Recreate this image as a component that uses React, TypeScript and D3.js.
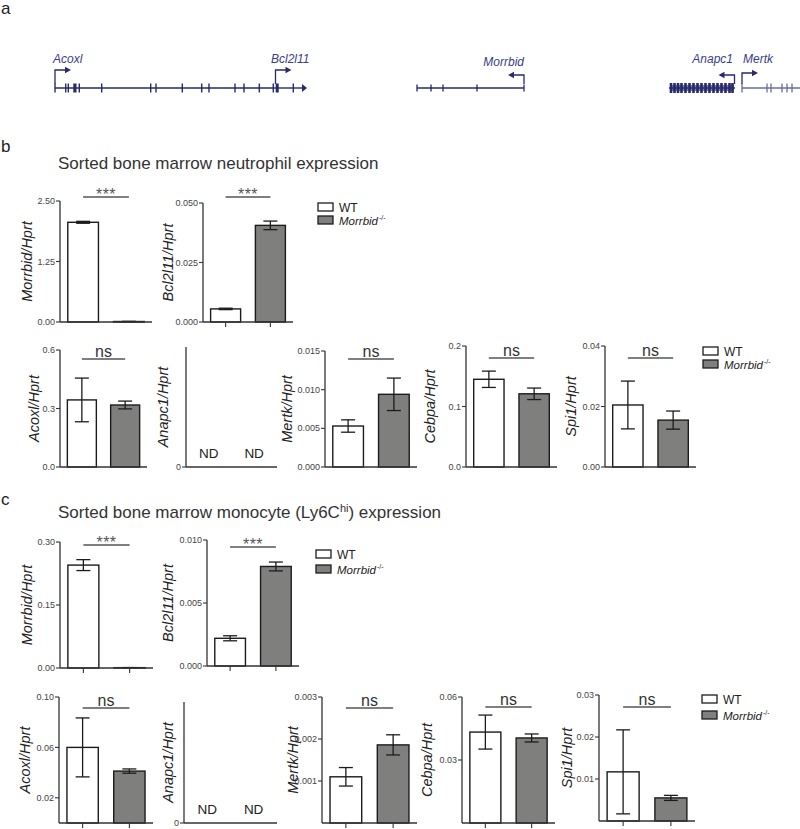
import React from "react";
import * as d3 from "d3";

const FONT = "'Liberation Sans', Arial, Helvetica, sans-serif";
const GENE_DARK = "#272a6b";
const GENE_LIGHT = "#6a6ca3";
const GENE_TEXT = "#3a3d88";
const KO_FILL = "#7f807d";
const INK = "#1c1c1c";

// ---------- Panel a: gene model data (genomic coordinate units) ----------
const acoxlSpan = [55, 273];
const acoxlExons = [55, 65.7, 68.3, 79.3, 101.7, 150.7, 156, 182.3, 201.7, 209, 235, 244, 259.3];
const acoxlBlocks = [[73.3, 76.5]];
const bcl2l11Span = [273, 303];
const bcl2l11Exons = [273.3, 293.3];
const bcl2l11Blocks = [[275.7, 278.7]];
const morrbidSpan = [417, 524];
const morrbidExons = [417, 431, 443, 477, 524];
const anapc1Span = [669, 735];
const anapc1Exons = [671, 674.5, 678, 681.5, 685.5, 689.5, 693.5, 697.5, 701.5, 705.5, 709.5, 713.5, 717.5, 721.5, 725.5, 729.5, 732.5];
const mertkSpan = [742, 800];
const mertkExons = [742, 767, 771, 782, 787, 792];
const tssNames = ["Acoxl", "Bcl2l11", "Morrbid", "Anapc1", "Mertk"];
const tssPos = [55, 275.5, 524, 734.5, 742];
const tssDir = [1, 1, -1, -1, 1];

// ---------- Panels b/c: expression data ----------
const genes = ["Morrbid", "Bcl2l11", "Acoxl", "Anapc1", "Mertk", "Cebpa", "Spi1"];
const groups = ["WT", "Morrbid-/-"];

const neutroWT = [2.06, 0.0055, 0.344, null, 0.0053, 0.145, 0.0205];
const neutroWTErr = [0.02, 0.0003, 0.112, null, 0.0008, 0.0135, 0.0079];
const neutroKO = [0.01, 0.0406, 0.318, null, 0.0094, 0.121, 0.0155];
const neutroKOErr = [0.004, 0.0018, 0.02, null, 0.0021, 0.0095, 0.003];
const neutroMax = [2.5, 0.05, 0.6, 1, 0.015, 0.2, 0.04];
const neutroTicks = [[0, 1.25, 2.5], [0, 0.025, 0.05], [0, 0.3, 0.6], [0], [0, 0.005, 0.01, 0.015], [0, 0.1, 0.2], [0, 0.02, 0.04]];
const neutroTickLabels = [["0.00", "1.25", "2.50"], ["0.000", "0.025", "0.050"], ["0.0", "0.3", "0.6"], ["0"], ["0.000", "0.005", "0.010", "0.015"], ["0.0", "0.1", "0.2"], ["0.00", "0.02", "0.04"]];
const neutroSig = ["***", "***", "ns", null, "ns", "ns", "ns"];

const monoWT = [0.245, 0.0022, 0.06, null, 0.0011, 0.0433, 0.0117];
const monoWTErr = [0.013, 0.0002, 0.0234, null, 0.00022, 0.0081, 0.01];
const monoKO = [0.0008, 0.0079, 0.0412, null, 0.00186, 0.0405, 0.0055];
const monoKOErr = [0.0003, 0.00035, 0.0017, null, 0.00024, 0.0019, 0.0006];
const monoMax = [0.3, 0.01, 0.1, 1, 0.003, 0.06, 0.03];
const monoTicks = [[0, 0.15, 0.3], [0, 0.005, 0.01], [0.02, 0.06, 0.1], [0], [0.001, 0.002, 0.003], [0.03, 0.06], [0.01, 0.02, 0.03]];
const monoTickLabels = [["0.00", "0.15", "0.30"], ["0.000", "0.005", "0.010"], ["0.02", "0.06", "0.10"], ["0"], ["0.001", "0.002", "0.003"], ["0.03", "0.06"], ["0.01", "0.02", "0.03"]];
const monoSig = ["***", "***", "ns", null, "ns", "ns", "ns"];

// ---------- Layout (positions only) ----------
const neutroLayout = [
  { ax: 60, w: 92, top: 201, bottom: 322, sigY: 197, labelX: 32, xTicks: false },
  { ax: 203, w: 90, top: 203, bottom: 322, sigY: 197, labelX: 173, xTicks: true },
  { ax: 60, w: 87, top: 350, bottom: 467, sigY: 359, labelX: 39, xTicks: false },
  { ax: 186, w: 91, top: 347, bottom: 467, sigY: 0, labelX: 168, xTicks: false },
  { ax: 325, w: 92, top: 351, bottom: 467, sigY: 359, labelX: 292, xTicks: false },
  { ax: 466, w: 91, top: 346, bottom: 467, sigY: 358, labelX: 435, xTicks: false },
  { ax: 605, w: 91, top: 346, bottom: 467, sigY: 358, labelX: 576, xTicks: false },
];
const monoLayout = [
  { ax: 60, w: 93, top: 542, bottom: 668, sigY: 545, labelX: 32, xTicks: true },
  { ax: 207, w: 92, top: 540, bottom: 666, sigY: 547, labelX: 173, xTicks: true },
  { ax: 59, w: 94, top: 697, bottom: 823, sigY: 708, labelX: 30, xTicks: true },
  { ax: 184, w: 93, top: 702, bottom: 823, sigY: 0, labelX: 173, xTicks: false },
  { ax: 322, w: 95, top: 697, bottom: 823, sigY: 708, labelX: 298, xTicks: true },
  { ax: 462, w: 93, top: 697, bottom: 823, sigY: 707, labelX: 432, xTicks: true },
  { ax: 599, w: 96, top: 695, bottom: 821, sigY: 707, labelX: 572, xTicks: true },
];

function GeneTrack() {
  const gx = d3.scaleLinear().domain([0, 800]).range([0, 800]);
  const y0 = 88;
  const th = 4.5;
  const line = (span: number[], color: string, key: string) => (
    <line key={key} x1={gx(span[0])} x2={gx(span[1])} y1={y0} y2={y0} stroke={color} strokeWidth={1.4} />
  );
  const ticks = (xs: number[], color: string, key: string, h = th, sw = 1.4) =>
    xs.map((v, i) => (
      <line key={key + i} x1={gx(v)} x2={gx(v)} y1={y0 - h} y2={y0 + h} stroke={color} strokeWidth={sw} />
    ));
  const blocks = (bs: number[][], color: string, key: string) =>
    bs.map((b, i) => (
      <rect key={key + i} x={gx(b[0])} y={y0 - th} width={gx(b[1]) - gx(b[0])} height={th * 2} fill={color} />
    ));
  const arrowTop = [70, 70, 75, 75, 73];
  return (
    <g>
      {line(acoxlSpan, GENE_DARK, "l1")}
      {line(bcl2l11Span, GENE_DARK, "l2")}
      {line(morrbidSpan, GENE_DARK, "l3")}
      {line(anapc1Span, GENE_DARK, "l4")}
      {line(mertkSpan, GENE_LIGHT, "l5")}
      {ticks(acoxlExons, GENE_DARK, "ae")}
      {blocks(acoxlBlocks, GENE_DARK, "ab")}
      {ticks(bcl2l11Exons, GENE_DARK, "be")}
      {blocks(bcl2l11Blocks, GENE_DARK, "bb")}
      <path d={`M${gx(302)},${y0 - 4} L${gx(307)},${y0} L${gx(302)},${y0 + 4} Z`} fill={GENE_DARK} />
      {ticks(morrbidExons, GENE_DARK, "me", 3.5, 1.3)}
      <rect x={gx(anapc1Span[0]) + 1} y={y0 - 3} width={gx(anapc1Span[1]) - gx(anapc1Span[0]) - 2} height={6} fill={GENE_DARK} opacity={0.6} />
      {anapc1Exons.map((v, i) => (
        <rect key={"an" + i} x={gx(v) - 1.3} y={y0 - 5} width={2.6} height={10} fill={GENE_DARK} />
      ))}
      {ticks(mertkExons, GENE_LIGHT, "mk", 4.5, 1.3)}
      {tssNames.map((n, i) => {
        const xs = gx(tssPos[i]);
        const yt = arrowTop[i];
        const dir = tssDir[i];
        const tip = xs + dir * 16;
        const color = GENE_DARK;
        return (
          <g key={"tss" + n}>
            <path d={`M${xs},${y0 - 4} L${xs},${yt} L${tip - dir * 5},${yt}`} fill="none" stroke={color} strokeWidth={1.3} />
            <path d={`M${tip},${yt} L${tip - dir * 6},${yt - 3.2} L${tip - dir * 6},${yt + 3.2} Z`} fill={color} />
          </g>
        );
      })}
      <g fontFamily={FONT} fontStyle="italic" fontSize={12} fill={GENE_TEXT}>
        <text x={53} y={63}>Acoxl</text>
        <text x={271} y={63}>Bcl2l11</text>
        <text x={524} y={66} textAnchor="end">Morrbid</text>
        <text x={733} y={63} textAnchor="end">Anapc1</text>
        <text x={743} y={63}>Mertk</text>
      </g>
    </g>
  );
}

type Layout = { ax: number; w: number; top: number; bottom: number; sigY: number; labelX: number; xTicks: boolean };

function BarPanel(props: {
  L: Layout; gene: string; wt: number | null; wtErr: number | null; ko: number | null; koErr: number | null;
  max: number; ticks: number[]; tickLabels: string[]; sig: string | null;
}) {
  const { L, gene, wt, wtErr, ko, koErr, max, ticks, tickLabels, sig } = props;
  const y = d3.scaleLinear().domain([0, max]).range([L.bottom, L.top]);
  const x = d3.scaleBand<string>().domain(groups).range([L.ax, L.ax + L.w]).paddingInner(0.33).paddingOuter(0.17);
  const bw = x.bandwidth();
  const cx = (g: string) => (x(g) as number) + bw / 2;
  const nd = wt == null;
  const vals = [wt, ko];
  const errs = [wtErr, koErr];
  const midY = (L.top + L.bottom) / 2;
  return (
    <g fontFamily={FONT}>
      {!nd &&
        groups.map((g, i) => {
          const v = vals[i] as number;
          return (
            <rect key={"bar" + g} x={x(g)} y={y(v)} width={bw} height={Math.max(0, y(0) - y(v))}
              fill={i === 0 ? "#ffffff" : KO_FILL} stroke={INK} strokeWidth={1.4} />
          );
        })}
      {!nd &&
        groups.map((g, i) => {
          const v = vals[i] as number;
          const e = errs[i] as number;
          if (!e) return null;
          const c = cx(g);
          return (
            <g key={"err" + g} stroke={INK} strokeWidth={1.3}>
              <line x1={c} x2={c} y1={y(v + e)} y2={y(v - e)} />
              <line x1={c - 7} x2={c + 7} y1={y(v + e)} y2={y(v + e)} />
              <line x1={c - 7} x2={c + 7} y1={y(v - e)} y2={y(v - e)} />
            </g>
          );
        })}
      {nd &&
        groups.map((g) => (
          <text key={"nd" + g} x={cx(g)} y={L.bottom - 9} textAnchor="middle" fontSize={13.5} fill="#222">ND</text>
        ))}
      <line x1={L.ax} x2={L.ax} y1={L.top} y2={L.bottom} stroke="#333" strokeWidth={1.3} />
      <line x1={L.ax} x2={L.ax + L.w} y1={L.bottom} y2={L.bottom} stroke="#333" strokeWidth={1.3} />
      {ticks.map((t, i) => (
        <g key={"t" + i}>
          <line x1={L.ax - 4} x2={L.ax} y1={y(t)} y2={y(t)} stroke="#333" strokeWidth={1.1} />
          <text x={L.ax - 5} y={y(t)} dy="0.35em" textAnchor="end" fontSize={9} fill="#444">{tickLabels[i]}</text>
        </g>
      ))}
      {L.xTicks &&
        groups.map((g) => (
          <line key={"xt" + g} x1={cx(g)} x2={cx(g)} y1={L.bottom} y2={L.bottom + 5} stroke="#333" strokeWidth={1.1} />
        ))}
      {sig && (
        <g>
          <line x1={cx(groups[0])} x2={cx(groups[1])} y1={L.sigY} y2={L.sigY} stroke="#555" strokeWidth={1.4} />
          {sig === "ns" ? (
            <text x={(cx(groups[0]) + cx(groups[1])) / 2} y={L.sigY - 2.5} textAnchor="middle" fontSize={16} fill="#333">ns</text>
          ) : (
            <text x={(cx(groups[0]) + cx(groups[1])) / 2} y={L.sigY + 3} textAnchor="middle" fontSize={16} fill="#555" letterSpacing={0.5}>{sig}</text>
          )}
        </g>
      )}
      <text transform={`translate(${L.labelX},${midY}) rotate(-90)`} textAnchor="middle" fontSize={14.5} fontStyle="italic" fill="#222">
        {gene}/Hprt
      </text>
    </g>
  );
}

function Legend({ x, y, dy }: { x: number; y: number; dy: number }) {
  return (
    <g fontFamily={FONT} fontSize={12} fill="#222">
      <rect x={x} y={y} width={15} height={8} fill="#fff" stroke={INK} strokeWidth={1.3} />
      <text x={x + 21} y={y + 8.5}>{groups[0]}</text>
      <rect x={x} y={y + dy} width={15} height={8} fill={KO_FILL} stroke={INK} strokeWidth={1.3} />
      <text x={x + 21} y={y + dy + 8.5} fontStyle="italic" fontSize={11.5}>
        Morrbid
        <tspan dx={1} dy={-5} fontSize={7} fontStyle="normal">-/-</tspan>
      </text>
    </g>
  );
}

export default function App() {
  return (
    <svg width={800} height={829} viewBox="0 0 800 829" style={{ position: "absolute", left: 0, top: 0, display: "block", background: "#fff" }}>
      <rect width={800} height={829} fill="#fff" />
      <g fontFamily={FONT} fontSize={17} fill="#222">
        <text x={1} y={14}>a</text>
        <text x={1} y={152}>b</text>
        <text x={1} y={505}>c</text>
      </g>
      <GeneTrack />
      <text x={58} y={169} fontFamily={FONT} fontSize={17} fill="#333">Sorted bone marrow neutrophil expression</text>
      <text x={58} y={518} fontFamily={FONT} fontSize={17} fill="#333">
        Sorted bone marrow monocyte (Ly6C
        <tspan dy={-6} fontSize={11}>hi</tspan>
        <tspan dy={6}>) expression</tspan>
      </text>
      {genes.map((g, i) => (
        <BarPanel key={"n" + g} L={neutroLayout[i]} gene={g} wt={neutroWT[i]} wtErr={neutroWTErr[i]} ko={neutroKO[i]} koErr={neutroKOErr[i]}
          max={neutroMax[i]} ticks={neutroTicks[i]} tickLabels={neutroTickLabels[i]} sig={neutroSig[i]} />
      ))}
      {genes.map((g, i) => (
        <BarPanel key={"m" + g} L={monoLayout[i]} gene={g} wt={monoWT[i]} wtErr={monoWTErr[i]} ko={monoKO[i]} koErr={monoKOErr[i]}
          max={monoMax[i]} ticks={monoTicks[i]} tickLabels={monoTickLabels[i]} sig={monoSig[i]} />
      ))}
      <Legend x={318} y={203} dy={13} />
      <Legend x={703} y={347} dy={13} />
      <Legend x={316} y={550} dy={15} />
      <Legend x={702} y={695} dy={16} />
    </svg>
  );
}
